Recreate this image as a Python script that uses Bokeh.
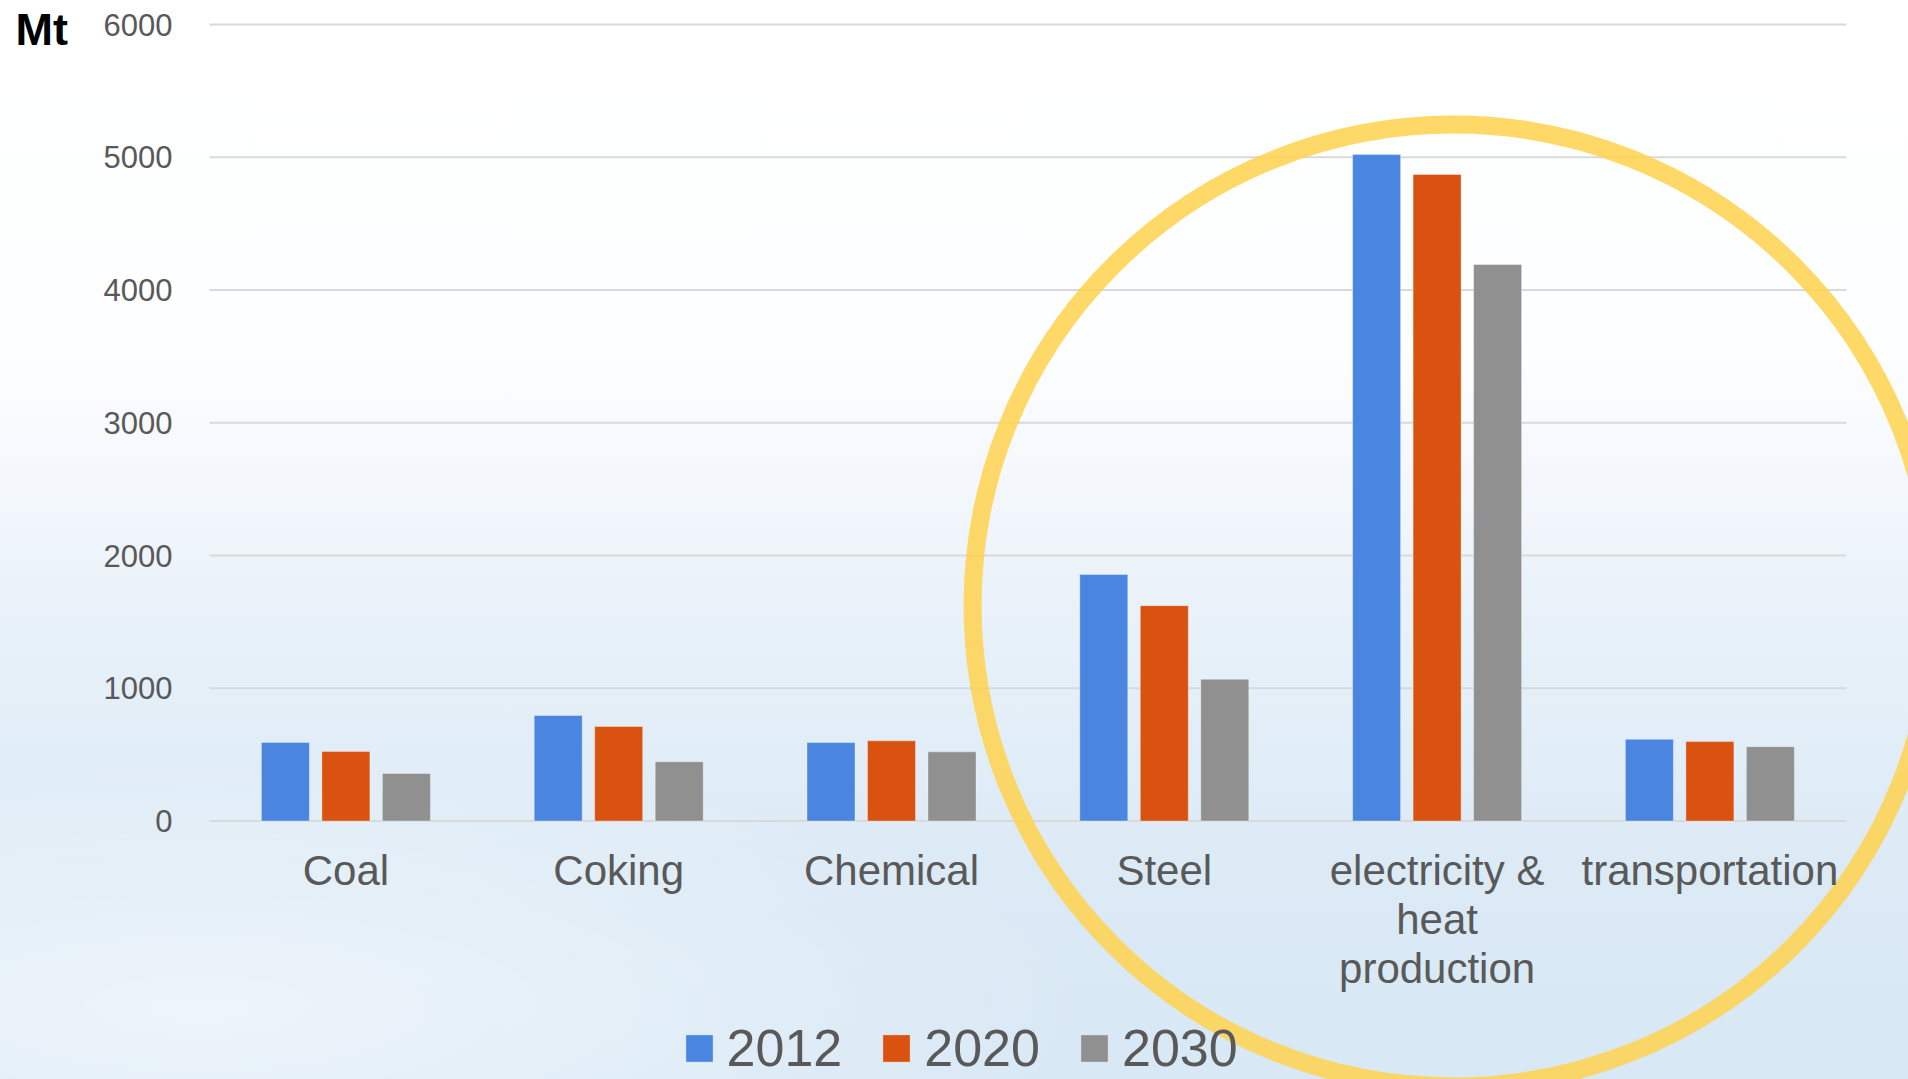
from bokeh.plotting import figure
from bokeh.models import Range1d, LinearAxis, FixedTicker, ColumnDataSource, Legend, LegendItem, Label
from bokeh.transform import dodge
from bokeh.embed import file_html
from bokeh.resources import INLINE

# ---------------- data ----------------
categories = ["Coal", "Coking", "Chemical", "Steel",
              "electricity & heat production", "transportation"]
category_labels = ["Coal", "Coking", "Chemical", "Steel",
                   "electricity &\nheat\nproduction", "transportation"]
years = ["2012", "2020", "2030"]
values_2012 = [592, 795, 591, 1857, 5020, 615]
values_2020 = [523, 712, 604, 1622, 4870, 598]
values_2030 = [358, 446, 521, 1068, 4192, 560]
y_ticks = [0, 1000, 2000, 3000, 4000, 5000, 6000]
unit_label = "Mt"
highlight = ["Steel", "electricity & heat production", "transportation"]

# ---------------- layout / style ----------------
W, H = 1908, 1079
FONT = "Liberation Sans"
TXT = "#595959"
colors = ["#4a86e0", "#d9520f", "#909090"]
X0_PX, STEP_PX = 345.4, 272.8      # centre of first category, category step
Y0_PX, YTOP_PX = 820.5, 24.0        # pixel rows of 0 and of the top tick
px_y = (Y0_PX - YTOP_PX) / (y_ticks[-1] - y_ticks[0])
x_start = -X0_PX / STEP_PX
x_end = x_start + W / STEP_PX
y_start = -(H - Y0_PX) / px_y
y_end = Y0_PX / px_y

p = figure(width=W, height=H,
           x_range=Range1d(x_start, x_end), y_range=Range1d(y_start, y_end),
           x_axis_location=None, y_axis_location=None,
           toolbar_location=None, output_backend="svg",
           min_border=0, min_border_left=0, min_border_right=0,
           min_border_top=0, min_border_bottom=0,
           outline_line_color=None)
p.grid.visible = False
p.background_fill_alpha = 0
p.border_fill_alpha = 0
p.styles = {"background": (
    "radial-gradient(ellipse 900px 260px at 200px 1010px, rgba(255,255,255,0.55), rgba(255,255,255,0)),"
    "linear-gradient(180deg, #ffffff 0%, #fdfeff 32%, #f4f8fc 44%, #e9f2f9 56%, "
    "#e1edf7 70%, #dae9f5 85%, #d8e8f5 100%)")}

idx = list(range(len(categories)))
src = ColumnDataSource(dict(x=idx, cat=categories,
                            v2012=values_2012, v2020=values_2020, v2030=values_2030))

# gridlines spanning the category area
n = len(categories)
p.segment(x0=[-0.5] * len(y_ticks), x1=[n - 0.5] * len(y_ticks),
          y0=y_ticks, y1=y_ticks, line_color="#d9d9d9", line_width=2)

bar_w = 48 / STEP_PX
off = 60.5 / STEP_PX
renderers = []
for col, field, o in zip(colors, ["v2012", "v2020", "v2030"], [-off, 0, off]):
    r = p.vbar(x=dodge("x", o), top=field, bottom=0, width=bar_w, source=src,
               fill_color=col, line_color="white", line_alpha=0.35, line_width=1)
    renderers.append(r)

# highlight ring around the last three categories
hi_idx = [categories.index(c) for c in highlight]
cx = sum(hi_idx) / len(hi_idx) + 16.5 / STEP_PX
cy = (Y0_PX - 605) / px_y
p.circle(x=[cx], y=[cy], radius=481, radius_units="screen",
         fill_alpha=0, line_color="#ffd24d", line_alpha=0.85, line_width=18)

yaxis = LinearAxis(fixed_location=-0.5, ticker=FixedTicker(ticks=y_ticks),
                   axis_line_color=None, major_tick_line_color=None,
                   minor_tick_line_color=None, major_tick_out=0, major_tick_in=0,
                   minor_tick_out=0, minor_tick_in=0,
                   major_label_standoff=37,
                   major_label_text_font=FONT, major_label_text_font_size="31px",
                   major_label_text_color=TXT)
p.add_layout(yaxis, "left")

xaxis = LinearAxis(fixed_location=0, ticker=FixedTicker(ticks=idx),
                   major_label_overrides={i: lab for i, lab in zip(idx, category_labels)},
                   axis_line_color=None, major_tick_line_color=None,
                   minor_tick_line_color=None, major_tick_out=0, major_tick_in=0,
                   minor_tick_out=0, minor_tick_in=0,
                   major_label_standoff=26,
                   major_label_text_font=FONT, major_label_text_font_size="42px",
                   major_label_text_color=TXT, major_label_text_line_height=1.04)
p.add_layout(xaxis, "below")

legend = Legend(items=[LegendItem(label=y, renderers=[r]) for y, r in zip(years, renderers)],
                orientation="horizontal", location=(681.6, 1),
                padding=0, margin=0, spacing=37, label_standoff=11,
                glyph_width=34, glyph_height=34,
                background_fill_alpha=0, border_line_alpha=0,
                label_text_font=FONT, label_text_font_size="52px",
                label_text_color=TXT)
p.add_layout(legend)

p.add_layout(Label(x=15, y=H - 29, x_units="screen", y_units="screen", text=unit_label,
                   text_font=FONT, text_font_style="bold", text_font_size="45px",
                   text_color="black", text_baseline="alphabetic"))

html = file_html(p, INLINE)
html = html.replace("<body>", '<body style="margin:0;background:#d8e8f5">', 1)
open("out.html", "w").write(html)
